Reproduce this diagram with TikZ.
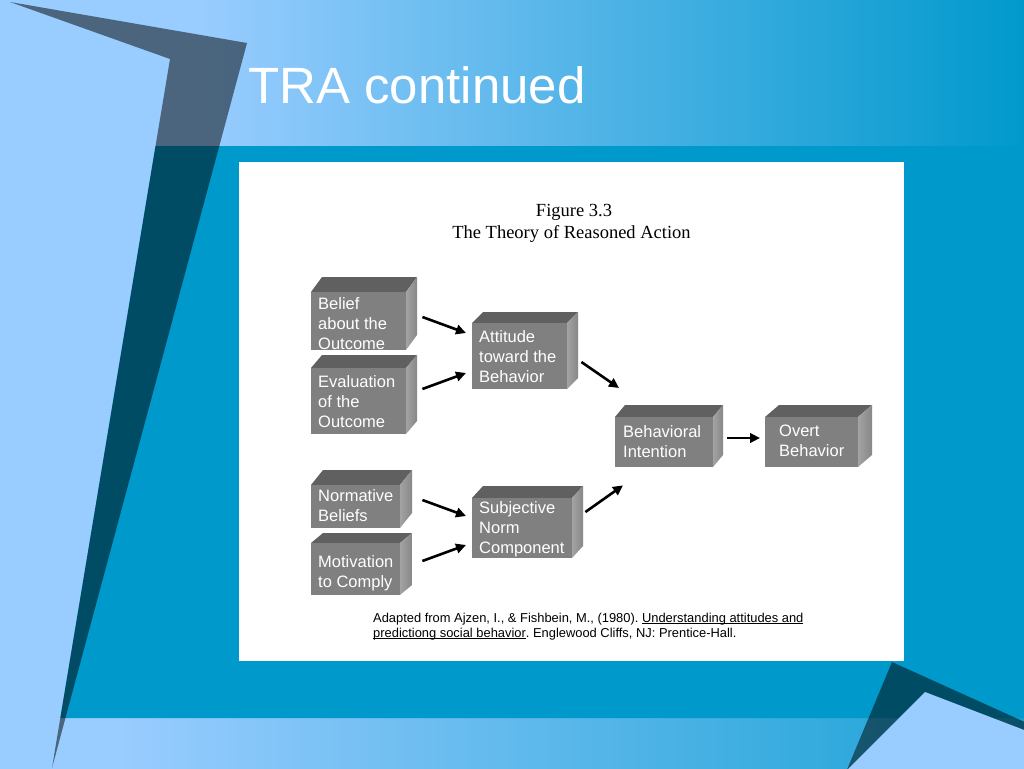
\documentclass[tikz,border=0pt]{standalone}
\usepackage{fontspec}
\setmainfont{Liberation Sans}
\newfontfamily\capserif{Liberation Serif}
\usetikzlibrary{arrows.meta,calc}
\definecolor{lblue}{HTML}{99CCFF}
\definecolor{bteal}{HTML}{0099CC}
\definecolor{facefront}{HTML}{808080}
\definecolor{facetop}{HTML}{606060}
\definecolor{sidel}{HTML}{A3A3A3}
\definecolor{sider}{HTML}{878787}
\frenchspacing
\newcommand\myul[1]{\setbox0\hbox{#1}\rlap{\rule[-2.2pt]{\wd0}{0.9pt}}\box0}
\tikzset{
  front/.style={fill=facefront, inner sep=0pt, draw=none},
  boxtext/.style={text=white, inner sep=0pt, align=left, font=\fontsize{16.5}{20}\selectfont},
  arr/.style={line width=2.6pt, -{Triangle[length=10pt,width=9.5pt]}},
  overlay50/.style={fill=black, fill opacity=0.5},
}
% name, x1, y1, x2, y2, dx, dy, text offset, text
\newcommand\gbox[9]{%
  \fill[facetop] (#2,#3) -- (#2+#6,#3-#7) -- (#4+#6,#3-#7) -- (#4,#3) -- cycle;
  \shade[left color=sidel,right color=sider] (#4,#3) -- (#4+#6,#3-#7) -- (#4+#6,#5-#7) -- (#4,#5) -- cycle;
  \node[front,anchor=north west,minimum width=#4-#2,minimum height=#5-#3] (#1) at (#2,#3) {};
  \node[boxtext,anchor=west] (#1t) at ($(#1.west)+(#8)$) {#9};
}
\begin{document}
\begin{tikzpicture}[x=1pt,y=-1pt]
\useasboundingbox (0,0) rectangle (1024,768);
% background
\fill[lblue] (-4,-4) rectangle (1028,772);
\shade[left color=lblue,right color=bteal] (200,-4) rectangle (1028,146);
\shade[left color=lblue,right color=bteal!85!lblue] (120,718) rectangle (1028,772);
\fill[bteal] (155.5,146) -- (1028,146) -- (1028,718) -- (60.3,718) -- cycle;
% dark spike top-left
\fill[overlay50] (10,2) -- (247,43) -- (52,768) -- (170,59) -- cycle;
% bottom-right decoration
\fill[overlay50] (892,662) -- (1028,723.5) -- (1028,772) -- (846,772) -- cycle;
\fill[lblue] (925,692) -- (1028,731.5) -- (1028,772) -- (845,772) -- cycle;
% white panel
\fill[white] (239,162) rectangle (904,661);
% title
\node[anchor=base west, text=white, inner sep=0pt, font=\fontsize{51}{60}\selectfont] (title) at (248,103) {TRA continued};
% figure caption
\node[anchor=base, inner sep=0pt, font=\capserif\fontsize{18.5}{22}\selectfont] (fig) at (574,216) {Figure 3.3};
\node[anchor=base, inner sep=0pt, font=\capserif\fontsize{18.5}{22}\selectfont] (figt) at (571.5,238) {The Theory of Reasoned Action};
% boxes
\gbox{b1}{311}{292}{406}{350}{11}{15}{7,2}{Belief\\about the\\Outcome}
\gbox{b2}{311}{368}{406}{434}{11}{13}{7,0}{Evaluation\\of the\\Outcome}
\gbox{b3}{472}{323}{567}{389}{11}{11}{7,0}{Attitude\\toward the\\Behavior}
\gbox{b4}{615}{417}{713}{467}{10}{12}{8,-1}{Behavioral\\Intention}
\gbox{b5}{765}{417}{858}{467}{14}{12}{14,-1}{Overt\\Behavior}
\gbox{b6}{311}{485}{400}{528}{12}{15}{7,-1}{Normative\\Beliefs}
\gbox{b7}{311}{543}{400}{595}{12}{10}{7,4}{Motivation\\to Comply}
\gbox{b8}{472}{498}{572}{558}{11}{12}{7,1}{Subjective\\Norm\\Component}
% arrows
\draw[arr] ($(b1.north east)+(16,25)$) -- ($(b3.north west)+(-6,10)$);
\draw[arr] ($(b2.north east)+(16,21)$) -- ($(b3.north west)+(-6,50)$);
\draw[arr] ($(b3.north east)+(14,39)$) -- ($(b4.north west)+(4,-29)$);
\draw[arr] ($(b8.north east)+(13,14)$) -- ($(b4.south west)+(8,18)$);
\draw[arr] ($(b4.north east)+(14,21)$) -- ($(b5.north west)+(-5,21)$);
\draw[arr] ($(b6.north east)+(22,15)$) -- ($(b8.north west)+(-6,18)$);
\draw[arr] ($(b7.north east)+(22,18)$) -- ($(b8.north west)+(-6,47)$);
% citation
\node[anchor=base west, inner sep=0pt, font=\fontsize{12.9}{15}\selectfont] (cite1) at (373,622) {Adapted from Ajzen, I., \& Fishbein, M., (1980). \myul{Understanding attitudes and}};
\node[anchor=base west, inner sep=0pt, font=\fontsize{12.9}{15}\selectfont] (cite2) at (373,637) {\myul{predictiong social behavior}. Englewood Cliffs, NJ: Prentice-Hall.};
\end{tikzpicture}
\end{document}
